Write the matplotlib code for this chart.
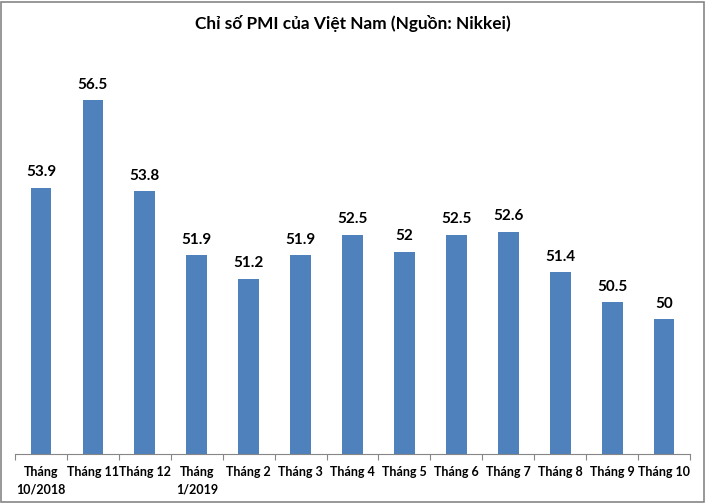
import matplotlib
matplotlib.use("Agg")
import matplotlib.pyplot as plt
from matplotlib.patches import Rectangle

categories = ["Tháng\n10/2018", "Tháng 11", "Tháng 12", "Tháng\n1/2019", "Tháng 2", "Tháng 3",
              "Tháng 4", "Tháng 5", "Tháng 6", "Tháng 7", "Tháng 8", "Tháng 9", "Tháng 10"]
values = [53.9, 56.5, 53.8, 51.9, 51.2, 51.9, 52.5, 52, 52.5, 52.6, 51.4, 50.5, 50]
value_labels = ["53.9", "56.5", "53.8", "51.9", "51.2", "51.9", "52.5", "52", "52.5", "52.6", "51.4", "50.5", "50"]
title = "Chỉ số PMI của Việt Nam (Nguồn: Nikkei)"

plt.rcParams['font.family'] = ['Lato', 'DejaVu Sans']

fig = plt.figure(figsize=(7.05, 5.04), dpi=100)
fig.patches.append(Rectangle((0.002, 0.004), 0.996, 0.993, transform=fig.transFigure,
                             fill=False, edgecolor="#868686", linewidth=1.2))
ax = fig.add_axes([15/705, (504-454)/504, 675/705, (454-49.5)/504])
x = list(range(len(values)))
ax.bar(x, values, width=0.4, color="#4F81BD", bottom=0)
ax.set_ylim(46, 58)
ax.set_xlim(-0.5, len(values) - 0.5)
for xi, v, lab in zip(x, values, value_labels):
    ax.text(xi, v + 0.25, lab, ha="center", va="bottom", fontsize=11, fontweight="bold", color="black")

ax.set_yticks([])
for s in ["top", "right", "left"]:
    ax.spines[s].set_visible(False)
ax.spines["bottom"].set_color("#868686")
ax.set_xticks([i - 0.5 for i in range(len(values) + 1)], minor=False)
ax.set_xticklabels([])
ax.tick_params(axis="x", which="major", length=4, color="#868686", direction="out")
ax.set_xticks(x, minor=True)
ax.set_xticklabels(categories, minor=True, fontsize=9, fontweight="bold", linespacing=1.45)
ax.tick_params(axis="x", which="minor", length=0, pad=9)

fig.text(0.5, 1 - 23/504, title, ha="center", va="center", fontsize=12.4, fontweight="bold")

fig.savefig("out.png", dpi=100)
